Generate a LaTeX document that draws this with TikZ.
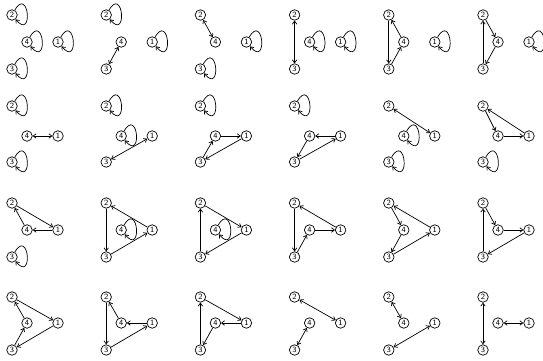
\documentclass[tikz,border=0pt]{standalone}
\usepackage{tikz}
\usetikzlibrary{arrows.meta}

\tikzset{
  vtx/.style={draw,circle,fill=white,inner sep=0pt,minimum size=10.5pt,font=\sffamily\fontsize{8}{8}\selectfont},
  arc/.style={-{Straight Barb[length=3pt,width=4.5pt]}},
  dbl/.style={{Straight Barb[length=3pt,width=4.5pt]}-{Straight Barb[length=3pt,width=4.5pt]}},
  lp/.style={arc,loop,out=60,in=-50,distance=28pt}
}

\begin{document}
\begin{tikzpicture}[x=1pt,y=-1pt,line width=0.7pt]
	\useasboundingbox (0,0) rectangle (543,361);
	\foreach \c/\x in {0/12,1/106.2,2/200.4,3/294.6,4/388.8,5/483}
	  \foreach \r/\ya/\yb/\yc in {0/15/42/69,1/106/136/162,2/203/230/257,3/297/323/350} {
	    \node[vtx] (N\r\c2) at (\x,\ya) {2};
	    \node[vtx] (N\r\c4) at (\x+15,\yb) {4};
	    \node[vtx] (N\r\c1) at (\x+46,\yb) {1};
	    \node[vtx] (N\r\c3) at (\x,\yc) {3};
	  }
	% row 0
	\path (N002) edge[lp] (N002)  (N004) edge[lp] (N004)  (N001) edge[lp] (N001)  (N003) edge[lp] (N003);
	\path (N012) edge[lp] (N012)  (N011) edge[lp] (N011)  (N013) edge[dbl] (N014);
	\path (N022) edge[dbl] (N024)  (N021) edge[lp] (N021)  (N023) edge[lp] (N023);
	\path (N032) edge[dbl] (N033)  (N034) edge[lp] (N034)  (N031) edge[lp] (N031);
	\path (N042) edge[arc] (N043)  (N043) edge[arc] (N044)  (N044) edge[arc] (N042)  (N041) edge[lp] (N041);
	\path (N053) edge[arc] (N052)  (N052) edge[arc] (N054)  (N054) edge[arc] (N053)  (N051) edge[lp] (N051);
	% row 1
	\path (N102) edge[lp] (N102)  (N103) edge[lp] (N103)  (N104) edge[dbl] (N101);
	\path (N112) edge[lp] (N112)  (N114) edge[lp] (N114)  (N113) edge[dbl] (N111);
	\path (N122) edge[lp] (N122)  (N123) edge[arc] (N124)  (N124) edge[arc] (N121)  (N121) edge[arc] (N123);
	\path (N132) edge[lp] (N132)  (N131) edge[arc] (N134)  (N134) edge[arc] (N133)  (N133) edge[arc] (N131);
	\path (N142) edge[dbl] (N141)  (N144) edge[lp] (N144)  (N143) edge[lp] (N143);
	\path (N151) edge[arc] (N152)  (N152) edge[arc] (N154)  (N154) edge[arc] (N151)  (N153) edge[lp] (N153);
	% row 2
	\path (N202) edge[arc] (N201)  (N201) edge[arc] (N204)  (N204) edge[arc] (N202)  (N203) edge[lp] (N203);
	\path (N211) edge[arc] (N212)  (N212) edge[arc] (N213)  (N213) edge[arc] (N211)  (N214) edge[lp] (N214);
	\path (N223) edge[arc] (N222)  (N222) edge[arc] (N221)  (N221) edge[arc] (N223)  (N224) edge[lp] (N224);
	\path (N231) edge[arc] (N232)  (N232) edge[arc] (N233)  (N233) edge[arc] (N234)  (N234) edge[arc] (N231);
	\path (N241) edge[arc] (N242)  (N242) edge[arc] (N244)  (N244) edge[arc] (N243)  (N243) edge[arc] (N241);
	\path (N253) edge[arc] (N252)  (N252) edge[arc] (N254)  (N254) edge[arc] (N251)  (N251) edge[arc] (N253);
	% row 3
	\path (N302) edge[arc] (N301)  (N301) edge[arc] (N303)  (N303) edge[arc] (N304)  (N304) edge[arc] (N302);
	\path (N312) edge[arc] (N313)  (N313) edge[arc] (N311)  (N311) edge[arc] (N314)  (N314) edge[arc] (N312);
	\path (N323) edge[arc] (N322)  (N322) edge[arc] (N321)  (N321) edge[arc] (N324)  (N324) edge[arc] (N323);
	\path (N332) edge[dbl] (N331)  (N333) edge[dbl] (N334);
	\path (N342) edge[dbl] (N344)  (N343) edge[dbl] (N341);
	\path (N352) edge[dbl] (N353)  (N354) edge[dbl] (N351);
\end{tikzpicture}
\end{document}
